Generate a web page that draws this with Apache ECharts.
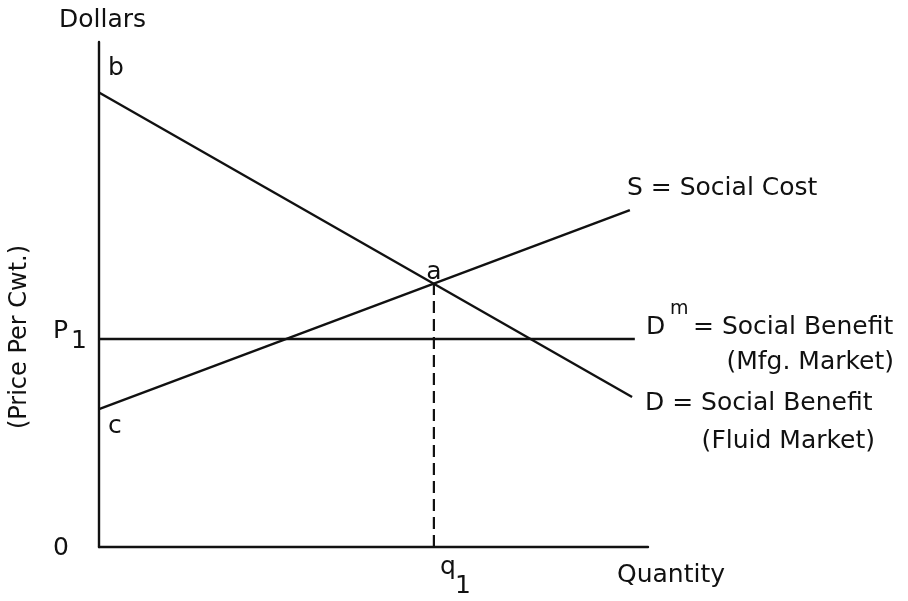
<!DOCTYPE html>
<html>
<head>
<meta charset="utf-8">
<script src="https://cdn.jsdelivr.net/npm/echarts@6/dist/echarts.min.js"></script>
<style>html,body{margin:0;padding:0;background:#fff}#c{width:908px;height:601px}</style>
</head>
<body>
<div id="c"></div>
<script>
// Data (quantity index 0-100, price index 0-100)
const demandQuantity = [0, 97.1];
const demandPrice = [90, 29.7];
const supplyQuantity = [0, 96.7];
const supplyPrice = [27.3, 66.7];
const mfgDemandQuantity = [0, 97.6];
const mfgDemandPrice = [41.2, 41.2];
const q1Quantity = [61, 61];
const q1Price = [0, 52.2];
const axisMin = 0, axisMax = 100;

const FONT = '"DejaVu Sans", sans-serif';
const FS = 25;

function pairs(xs, ys) { return xs.map((x, i) => [x, ys[i]]); }

const lineStyle = { color: '#111', width: 2.4 };

function txt(text, x, y, opts) {
  return {
    type: 'text',
    style: Object.assign({
      text: text, x: x, y: y, fill: '#111',
      font: FS + 'px ' + FONT,
      textAlign: 'left', textVerticalAlign: 'middle'
    }, opts || {})
  };
}

const chart = echarts.init(document.getElementById('c'), null, { renderer: 'canvas' });
chart.setOption({
  backgroundColor: '#fff',
  animation: false,
  grid: { left: 99, top: 42, width: 549, height: 505 },
  xAxis: {
    type: 'value', min: axisMin, max: axisMax,
    axisLine: { show: true, lineStyle: { color: '#111', width: 2.4 } },
    axisTick: { show: false }, axisLabel: { show: false }, splitLine: { show: false }
  },
  yAxis: {
    type: 'value', min: axisMin, max: axisMax,
    axisLine: { show: true, lineStyle: { color: '#111', width: 2.4 } },
    axisTick: { show: false }, axisLabel: { show: false }, splitLine: { show: false }
  },
  series: [
    { type: 'line', name: 'D', data: pairs(demandQuantity, demandPrice), symbol: 'none', lineStyle: lineStyle },
    { type: 'line', name: 'S', data: pairs(supplyQuantity, supplyPrice), symbol: 'none', lineStyle: lineStyle },
    { type: 'line', name: 'Dm', data: pairs(mfgDemandQuantity, mfgDemandPrice), symbol: 'none', lineStyle: lineStyle },
    { type: 'line', name: 'q1', data: pairs(q1Quantity, q1Price), symbol: 'none',
      lineStyle: { color: '#111', width: 2.2, type: [12, 6] } }
  ],
  graphic: [
    txt('Dollars', 59, 20),
    txt('b', 108, 68),
    txt('c', 108, 426),
    txt('a', 434, 272, { textAlign: 'center' }),
    txt('P', 53, 331),
    txt('1', 71, 341),
    txt('0', 53, 548),
    txt('q', 440, 567),
    txt('1', 455, 586),
    txt('Quantity', 617, 575),
    txt('S = Social Cost', 627, 188),
    txt('D', 646, 327),
    txt('m', 670, 309, { font: '19px ' + FONT }),
    txt('= Social Benefit', 693, 327),
    txt('(Mfg. Market)', 894, 362, { textAlign: 'right' }),
    txt('D = Social Benefit', 645, 403),
    txt('(Fluid Market)', 875, 441, { textAlign: 'right' }),
    {
      type: 'text', x: 20, y: 337, rotation: Math.PI / 2,
      style: { text: '(Price Per Cwt.)', x: 0, y: 0, fill: '#111', font: '24px ' + FONT,
        textAlign: 'center', textVerticalAlign: 'middle' }
    }
  ]
});
</script>
</body>
</html>
